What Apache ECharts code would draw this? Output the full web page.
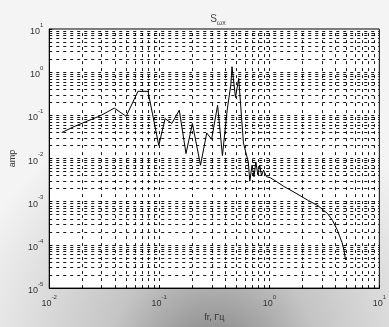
<!DOCTYPE html>
<html>
<head>
<meta charset="utf-8">
<script src="https://cdn.jsdelivr.net/npm/echarts@6/dist/echarts.min.js"></script>
<style>
  html, body { margin: 0; padding: 0; }
  #chart { width: 389px; height: 327px; }
</style>
</head>
<body>
<div id="chart"></div>
<script>
// spectrum
let freqs = [0.013, 0.0168, 0.0214, 0.0289, 0.039, 0.050, 0.064, 0.079, 0.099, 0.113,
  0.130, 0.152, 0.175, 0.200, 0.237, 0.270, 0.299, 0.339, 0.375, 0.414,
  0.447, 0.458, 0.493, 0.527, 0.582, 0.644, 0.665, 0.697, 0.726, 0.755,
  0.787, 0.818, 0.851, 0.887, 0.942, 1.02, 1.17, 1.34, 1.75, 2.27,
  2.77, 3.39, 3.75, 4.14, 4.58, 4.77, 4.93];
let amps = [0.040, 0.055, 0.071, 0.097, 0.147, 0.095, 0.36, 0.36, 0.020, 0.084,
  0.065, 0.132, 0.013, 0.065, 0.0070, 0.039, 0.028, 0.171, 0.0117, 0.132,
  0.51, 1.34, 0.26, 0.72, 0.023, 0.0083, 0.0030, 0.0070, 0.0038, 0.0083,
  0.0042, 0.0070, 0.0040, 0.0054, 0.0038, 0.0036, 0.0029, 0.0023, 0.00157, 0.00106,
  0.00081, 0.00053, 0.00037, 0.000225, 0.000114, 0.0000754, 0.000045];
let xDecades = [-2, -1, 0];
let yDecades = [-5, -4, -3, -2, -1, 0];

let chart = echarts.init(document.getElementById('chart'));

let gridX = [], gridY = [];
xDecades.forEach(k => {
  for (let m = 1; m <= 9; m++) if (!(k == -2 && m == 1)) gridX.push({ xAxis: m * Math.pow(10, k) });
});
yDecades.forEach(k => {
  for (let m = 1; m <= 9; m++) if (!(k == -5 && m == 1)) gridY.push({ yAxis: m * Math.pow(10, k) });
});

function powLabel(v) {
  let e = Math.round(Math.log10(v));
  return '{b|10}{e|' + e + '}';
}
let labelRich = {
  b: { fontSize: 9, color: '#333', lineHeight: 14, verticalAlign: 'bottom', fontFamily: 'Liberation Sans' },
  e: { fontSize: 6, color: '#333', lineHeight: 14, verticalAlign: 'top', fontFamily: 'Liberation Sans' }
};

chart.setOption({
  animation: false,
  backgroundColor: {
    type: 'radial', x: 0.55, y: 1.1, r: 0.8,
    colorStops: [
      { offset: 0, color: '#808080' },
      { offset: 0.4, color: '#c4c4c4' },
      { offset: 1, color: '#f4f4f4' }
    ]
  },
  title: {
    text: '{s|S}{sub|ωx}',
    left: 213, top: 6, textAlign: 'center',
    textStyle: {
      fontWeight: 'normal',
      rich: {
        s: { fontSize: 10, color: '#444', fontWeight: 'normal', lineHeight: 16, verticalAlign: 'middle', fontFamily: 'Liberation Sans' },
        sub: { fontSize: 7, color: '#444', fontWeight: 'normal', lineHeight: 16, verticalAlign: 'bottom', fontFamily: 'Liberation Sans' }
      }
    }
  },
  grid: {
    left: 42, right: 2, top: 29, bottom: 30,
    show: true, backgroundColor: '#fff', borderColor: '#000', borderWidth: 1
  },
  xAxis: {
    type: 'log', logBase: 10, min: 0.01, max: 10,
    name: 'fr, Гц', nameLocation: 'middle', nameGap: 21,
    nameTextStyle: { fontSize: 9, color: '#333', fontFamily: 'Liberation Sans' },
    axisLine: { lineStyle: { color: '#000' } },
    axisTick: { inside: true, length: 3, lineStyle: { color: '#000' } },
    splitLine: { show: false },
    axisLabel: { formatter: powLabel, rich: labelRich, margin: 6 }
  },
  yAxis: {
    type: 'log', logBase: 10, min: 0.00001, max: 10,
    name: 'amp', nameLocation: 'middle', nameGap: 30,
    nameTextStyle: { fontSize: 9, color: '#333', fontFamily: 'Liberation Sans' },
    axisLine: { lineStyle: { color: '#000' } },
    axisTick: { inside: true, length: 3, lineStyle: { color: '#000' } },
    splitLine: { show: false },
    axisLabel: { formatter: powLabel, rich: labelRich, margin: 6 }
  },
  series: [
    {
      type: 'line',
      data: freqs.map((f, i) => [f, amps[i]]),
      showSymbol: false,
      lineStyle: { color: '#000', width: 1 },
      z: 5,
      markLine: {
        silent: true, symbol: 'none', label: { show: false }, precision: 12,
        lineStyle: { color: '#000', width: 1, type: [3, 4], opacity: 0.9 },
        data: gridX.concat(gridY)
      }
    }
  ]
});
</script>
</body>
</html>
